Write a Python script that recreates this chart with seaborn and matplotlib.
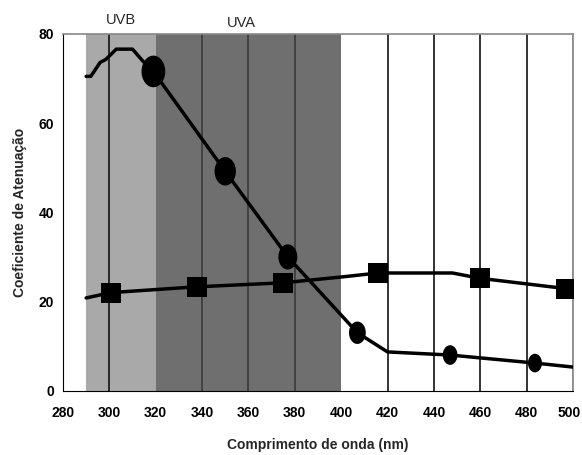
import numpy as np
import pandas as pd
import matplotlib
matplotlib.use("Agg")
import matplotlib.pyplot as plt
from matplotlib.path import Path
from matplotlib.transforms import ScaledTranslation
import seaborn as sns

# curve with circles (line points) and its marker points
circ_line_x = [290, 292, 296, 298.5, 303, 310, 314.5, 319, 350, 377, 407, 420, 447, 483.6, 500]
circ_line_y = [70.5, 70.5, 73.6, 74.3, 76.6, 76.6, 73.9, 71.6, 49.2, 30.0, 13.0, 8.7, 8.0, 6.2, 5.3]
circ_mark_x = [319, 350, 377, 407, 447, 483.6]
circ_mark_y = [71.6, 49.2, 30.0, 13.0, 8.0, 6.2]

# curve with squares
sq_line_x = [290, 300.6, 337.6, 375, 400, 416, 448, 460, 497, 500]
sq_line_y = [20.8, 22.0, 23.3, 24.2, 25.5, 26.4, 26.4, 25.2, 22.9, 22.5]
sq_mark_x = [300.6, 337.6, 375, 416, 460, 497]
sq_mark_y = [22.0, 23.3, 24.2, 26.4, 25.2, 22.9]

uvb_band = (290, 320)
uva_band = (320, 400)
grid_x = [300, 340, 360, 380, 420, 440, 460, 480, 500]

sns.set_style("white")
plt.rcParams['font.family'] = ['Liberation Sans', 'DejaVu Sans']

fig = plt.figure(figsize=(5.82, 4.55), dpi=100)
ax = fig.add_axes([0.1082, 0.1413, 0.8763, 0.784])

ax.axvspan(*uvb_band, color="#a9a9a9", lw=0, zorder=0)
ax.axvspan(*uva_band, color="#6f6f6f", lw=0, zorder=0)
for gx in grid_x:
    c = "#3a3a3a" if uva_band[0] < gx < uva_band[1] else "#111111"
    if gx == 500:
        c = "#888888"
    ax.axvline(gx, color=c, lw=1.2, zorder=1)

# tall ellipse marker
t = np.linspace(0, 2 * np.pi, 40)
ellipse = Path(np.column_stack([0.75 * np.cos(t), np.sin(t)]), closed=True)

circ_line = pd.DataFrame({"x": circ_line_x, "y": circ_line_y})
sq_line = pd.DataFrame({"x": sq_line_x, "y": sq_line_y})
sns.lineplot(data=circ_line, x="x", y="y", color="black", lw=2.5, sort=False, ax=ax, zorder=3)
sns.lineplot(data=sq_line, x="x", y="y", color="black", lw=2.5, sort=False, ax=ax, zorder=3)
sns.scatterplot(x=circ_mark_x, y=circ_mark_y, marker=ellipse, s=[520, 420, 330, 260, 200, 180],
                color="black", edgecolor="black", linewidth=0, ax=ax, zorder=4, legend=False)
sns.scatterplot(x=sq_mark_x, y=sq_mark_y, marker="s", s=210, color="black",
                edgecolor="black", linewidth=0, ax=ax, zorder=4)

ax.set_xlim(280, 500)
ax.set_ylim(0, 80)
ax.set_xticks(range(280, 501, 20))
ax.set_yticks([0, 20, 40, 60, 80])
ax.tick_params(axis="both", labelsize=10, length=3, width=1, direction="out", colors="black")
ax.tick_params(axis="x", pad=8)
for lab in ax.get_xticklabels() + ax.get_yticklabels():
    lab.set_fontweight("bold")
last = ax.get_xticklabels()[-1]
last.set_transform(last.get_transform() + ScaledTranslation(-4 / 100, 0, fig.dpi_scale_trans))

for side in ["top", "right"]:
    ax.spines[side].set_color("#888888")
    ax.spines[side].set_linewidth(1.2)
ax.spines["left"].set_color("black")
ax.spines["bottom"].set_color("black")

ax.set_xlabel("Comprimento de onda (nm)", fontsize=10, fontweight="bold", labelpad=13)
ax.set_ylabel("Coeficiente de Atenuação", fontsize=10, fontweight="bold")
ax.yaxis.set_label_coords(-0.07, 0.5)

ax.text(305, 81.5, "UVB", ha="center", va="bottom", fontsize=10.5)
ax.text(357, 80.8, "UVA", ha="center", va="bottom", fontsize=10.5)

fig.savefig("out.png", dpi=100)
